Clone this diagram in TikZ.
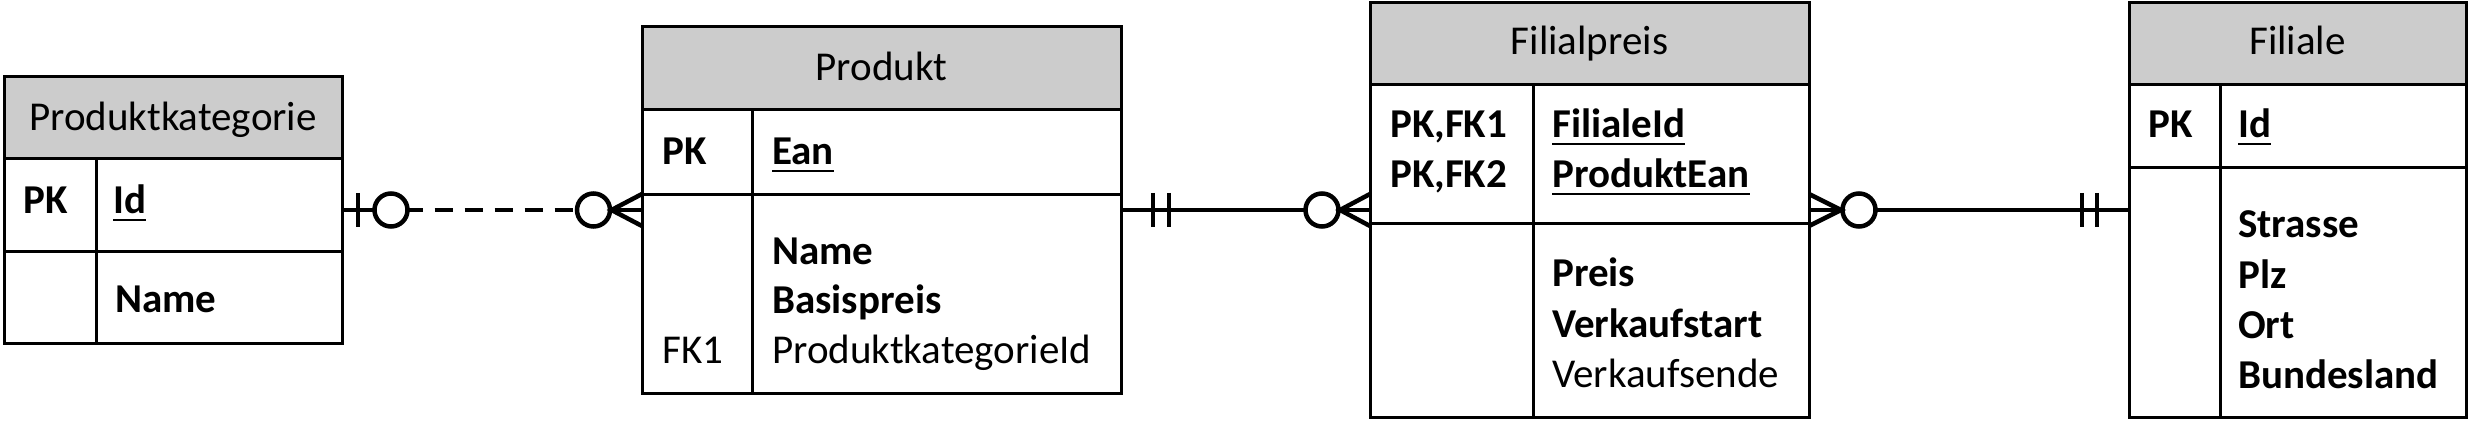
\documentclass[tikz,border=0pt]{standalone}
\usepackage{fontspec}
\setmainfont{Carlito}
\usetikzlibrary{calc}
\definecolor{hdrgray}{HTML}{CCCCCC}
\begin{document}
\begin{tikzpicture}[x=1pt,y=-1pt,
  entity/.style={draw, line width=3pt, rectangle, inner sep=0pt, outer sep=0pt, anchor=north west},
  sep/.style={line width=3pt},
  ttl/.style={anchor=base, inner sep=0pt, font=\fontsize{41}{50}\selectfont},
  att/.style={anchor=base west, inner sep=0pt, font=\fontsize{41}{50}\selectfont},
  batt/.style={anchor=base west, inner sep=0pt, font=\fontsize{41}{50}\selectfont\bfseries},
  ul/.style={line width=2.5pt},
  con/.style={line width=4.5pt},
  circ/.style={draw, circle, line width=4.5pt, minimum size=33pt, inner sep=0pt, outer sep=0pt, fill=white},
]
\useasboundingbox (0,0) rectangle (2469,422);

% ---------- Produktkategorie ----------
\fill[hdrgray] (4,77) rectangle (342,159);
\node[entity, minimum width=338pt, minimum height=266pt] (pkat) at (4,77) {};
\draw[sep] (4,159) -- (342,159);
\draw[sep] (4,252) -- (342,252);
\draw[sep] (96,159) -- (96,343);
\node[ttl] (pkatT) at (173,131) {Produktkategorie};
\node[batt] (pkatPK) at (23,214) {PK};
\node[batt] (pkatId) at (113,214) {Id};
\draw[ul] ([yshift=-6pt]pkatId.base west) -- ([yshift=-6pt]pkatId.base east);
\node[batt] (pkatName) at (115,312) {Name};

% ---------- Produkt ----------
\fill[hdrgray] (642,27) rectangle (1121,110);
\node[entity, minimum width=479pt, minimum height=366pt] (prod) at (642,27) {};
\draw[sep] (642,110) -- (1121,110);
\draw[sep] (642,195) -- (1121,195);
\draw[sep] (752,110) -- (752,393);
\node[ttl] (prodT) at (881.5,81) {Produkt};
\node[batt] (prodPK) at (662,165) {PK};
\node[batt] (prodEan) at (772,165) {Ean};
\draw[ul] ([yshift=-6pt]prodEan.base west) -- ([yshift=-6pt]prodEan.base east);
\node[batt] (prodName) at (772,265) {Name};
\node[batt] (prodBP) at (772,313) {Basispreis};
\node[att] (prodFK) at (662,363) {FK1};
\node[att] (prodPKI) at (772,363) {ProduktkategorieId};

% ---------- Filialpreis ----------
\fill[hdrgray] (1370,3) rectangle (1809,85);
\node[entity, minimum width=439pt, minimum height=414pt] (fp) at (1370,3) {};
\draw[sep] (1370,85) -- (1809,85);
\draw[sep] (1370,224) -- (1809,224);
\draw[sep] (1533,85) -- (1533,417);
\node[ttl] (fpT) at (1589.5,55) {Filialpreis};
\node[batt] (fpK1) at (1390,138) {PK,FK1};
\node[batt] (fpK2) at (1390,188) {PK,FK2};
\node[batt] (fpFI) at (1552,138) {FilialeId};
\draw[ul] ([yshift=-6pt]fpFI.base west) -- ([yshift=-6pt]fpFI.base east);
\node[batt] (fpPE) at (1552,188) {ProduktEan};
\draw[ul] ([yshift=-6pt]fpPE.base west) -- ([yshift=-6pt]fpPE.base east);
\node[batt] (fpPr) at (1552,287) {Preis};
\node[batt] (fpVS) at (1552,337) {Verkaufstart};
\node[att] (fpVE) at (1552,387) {Verkaufsende};

% ---------- Filiale ----------
\fill[hdrgray] (2129,3) rectangle (2466,85);
\node[entity, minimum width=337pt, minimum height=414pt] (fil) at (2129,3) {};
\draw[sep] (2129,85) -- (2466,85);
\draw[sep] (2129,168) -- (2466,168);
\draw[sep] (2220,85) -- (2220,417);
\node[ttl] (filT) at (2297.5,55) {Filiale};
\node[batt] (filPK) at (2148,138) {PK};
\node[batt] (filId) at (2238,138) {Id};
\draw[ul] ([yshift=-6pt]filId.base west) -- ([yshift=-6pt]filId.base east);
\node[batt] (filS) at (2238,238) {Strasse};
\node[batt] (filP) at (2238,288) {Plz};
\node[batt] (filO) at (2238,338) {Ort};
\node[batt] (filB) at (2238,388) {Bundesland};

% ---------- connector end points ----------
\coordinate (pkatR) at (342,210);
\coordinate (prodL) at (642,210);
\coordinate (prodR) at (1121,210);
\coordinate (fpL) at (1370,210);
\coordinate (fpR) at (1809,210);
\coordinate (filL) at (2129,210);

% ---------- Produktkategorie -- Produkt ----------
\node[circ] (o1) at (391,210) {};
\node[circ] (o2) at (593.5,210) {};
\draw[con] (pkatR) -- (o1);
\draw[con] (358,193) -- (358,227);
\draw[con, dash pattern=on 18pt off 12pt, dash phase=3pt] (o1.east) -- (o2.west);
\draw[con] (o2.east) -- (prodL);
\draw[con] ($(prodL)+(0,-16)$) -- ($(o2.east)+(1.5,0)$) -- ($(prodL)+(0,16)$);

% ---------- Produkt -- Filialpreis ----------
\node[circ] (o3) at (1322,210) {};
\draw[con] (prodR) -- (o3);
\draw[con] (1153,193) -- (1153,227);
\draw[con] (1169,193) -- (1169,227);
\draw[con] (o3.east) -- (fpL);
\draw[con] ($(fpL)+(0,-16)$) -- ($(o3.east)+(1.5,0)$) -- ($(fpL)+(0,16)$);

% ---------- Filialpreis -- Filiale ----------
\node[circ] (o4) at (1859,210) {};
\draw[con] (fpR) -- (o4);
\draw[con] ($(fpR)+(0,-16)$) -- ($(o4.west)+(-1.5,0)$) -- ($(fpR)+(0,16)$);
\draw[con] (o4) -- (filL);
\draw[con] (2082,193) -- (2082,227);
\draw[con] (2097,193) -- (2097,227);
\end{tikzpicture}
\end{document}
